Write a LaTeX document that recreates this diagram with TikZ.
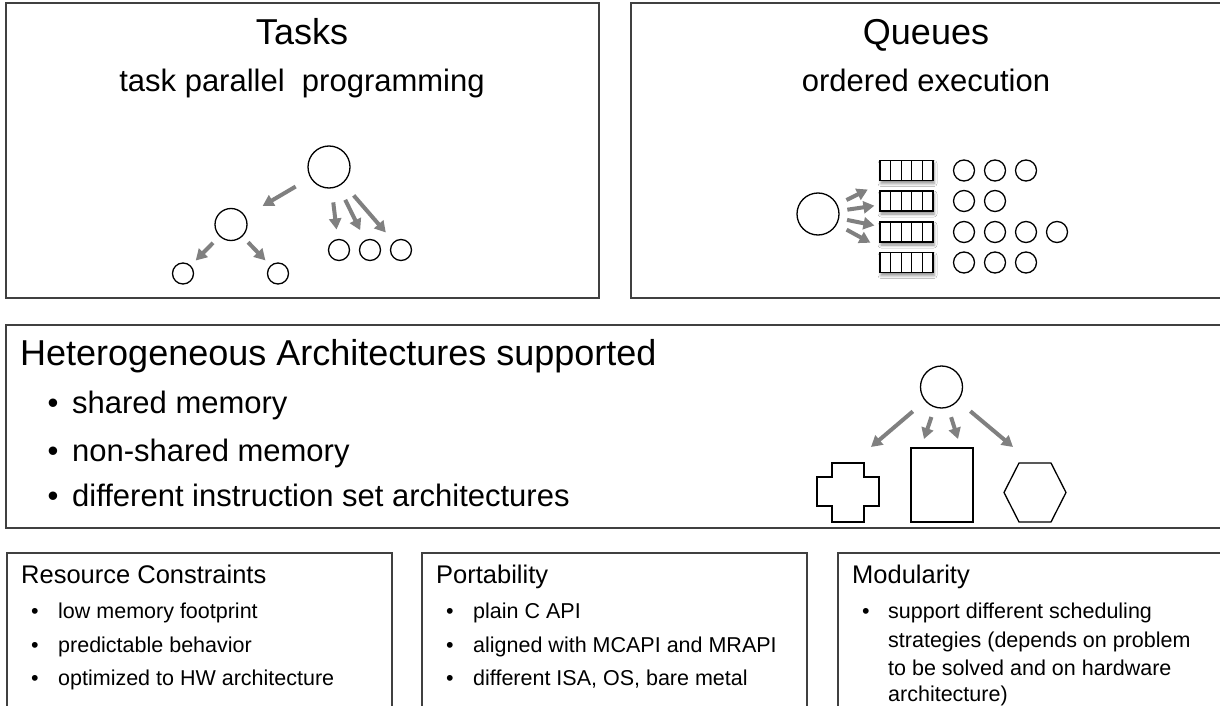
\documentclass[tikz,border=0pt]{standalone}
\usepackage{fontspec}
\setmainfont{Liberation Sans}
\usetikzlibrary{arrows.meta,shadows.blur,calc}
\definecolor{framegray}{HTML}{404040}
\definecolor{arrgray}{HTML}{808080}
\tikzset{
  frame/.style={draw=framegray, line width=1.8pt},
  arr/.style={draw=arrgray, line width=4pt, -{Triangle[length=11pt,width=12pt]}},
  shapeln/.style={draw=black, line width=1.3pt},
  circ/.style={shapeln, circle, inner sep=0pt, minimum size=#1},
  qbox/.style={shapeln, rectangle, inner sep=0pt, minimum width=53pt, minimum height=20pt, fill=white,
    blur shadow={shadow xshift=1pt, shadow yshift=-3pt, shadow blur radius=3pt, shadow opacity=45}},
  bigtitle/.style={font=\fontsize{36}{43}\selectfont, inner sep=0pt, anchor=base},
  subtitle/.style={font=\fontsize{31}{37}\selectfont, inner sep=0pt, anchor=base},
  bigitem/.style={font=\fontsize{31}{37}\selectfont, inner sep=0pt, anchor=base west},
  bigbul/.style={font=\fontsize{31}{37}\selectfont, inner sep=0pt, anchor=base},
  smallhead/.style={font=\fontsize{25.5}{30}\selectfont, inner sep=0pt, anchor=base west},
  smallitem/.style={font=\fontsize{21.5}{26}\selectfont, inner sep=0pt, anchor=base west},
  smallbul/.style={font=\fontsize{21.5}{26}\selectfont, inner sep=0pt, anchor=base},
}
\begin{document}
\begin{tikzpicture}[x=1pt,y=-1pt]
\useasboundingbox (0,0) rectangle (1220,706);
\clip (0,0) rectangle (1220,706);
\fill[white] (0,0) rectangle (1220,706);

% ---------- frames ----------
\draw[frame] (6,3) rectangle (599,298);
\draw[frame] (631,3) rectangle (1226,298);
\draw[frame] (6,325) rectangle (1226,528);
\draw[frame] (7,553) rectangle (392,716);
\draw[frame] (422,553) rectangle (807,716);
\draw[frame] (838,553) rectangle (1226,716);

% ---------- Tasks ----------
\node[bigtitle] (ttitle) at (302,45) {Tasks};
\node[subtitle] (tsub) at (302,92) {task parallel\hspace{0.28em} programming};

\node[circ=42pt] (root) at (329,167) {};
\node[circ=32pt] (lc) at (231,224.5) {};
\node[circ=21pt] (ll) at (183,273.5) {};
\node[circ=21pt] (lr) at (278,273.5) {};
\node[circ=21pt] (r1) at (339,250) {};
\node[circ=21pt] (r2) at (370,250) {};
\node[circ=21pt] (r3) at (401,250) {};

\draw[arr, shorten <=17pt, shorten >=20pt] (root) -- (lc);
\draw[arr, shorten <=9pt, shorten >=7pt] (lc) -- (ll);
\draw[arr, shorten <=8pt, shorten >=7pt] (lc) -- (lr);
\draw[arr, shorten <=14pt, shorten >=9.5pt] (root) -- (r1);
\draw[arr, shorten <=15pt, shorten >=11pt] (root) -- (r2);
\draw[arr, shorten <=16pt, shorten >=12pt] (root) -- (r3);

% ---------- Queues ----------
\node[bigtitle] (qtitle) at (926,45) {Queues};
\node[subtitle] (qsub) at (926,92) {ordered execution};

\node[circ=42pt] (qsrc) at (818,214) {};
\foreach \i/\y/\n in {1/170.5/3, 2/201/2, 3/232/4, 4/262.5/3} {
  \node[qbox] (Q\i) at (906.5,\y) {};
  \foreach \k in {1,2,3,4} {
    \draw[line width=1.1pt] ($(Q\i.south west)!\k/5!(Q\i.south east)$) -- ($(Q\i.north west)!\k/5!(Q\i.north east)$);
  }
  \foreach \j in {1,...,\n} {
    \node[circ=21pt] (q\i c\j) at ({964+31*(\j-1)},\y) {};
  }
}
\draw[arr, shorten <=10pt, shorten >=19pt] (qsrc) -- (Q1);
\draw[arr, shorten <=8pt, shorten >=5pt] (qsrc) -- (Q2);
\draw[arr, shorten <=8pt, shorten >=5pt] (qsrc) -- (Q3);
\draw[arr, shorten <=11pt, shorten >=19pt] (qsrc) -- (Q4);

% ---------- Heterogeneous ----------
\node[anchor=base west, inner sep=0pt, font=\fontsize{36}{43}\selectfont] (htitle) at (20,365) {Heterogeneous Architectures supported};
\node[bigbul] (hb1) at (53,413) {\textbullet};
\node[bigitem] (hi1) at (72,413) {shared memory};
\node[bigbul] (hb2) at (53,461) {\textbullet};
\node[bigitem] (hi2) at (72,461) {non-shared memory};
\node[bigbul] (hb3) at (53,506) {\textbullet};
\node[bigitem] (hi3) at (72,506) {different instruction set architectures};

\node[circ=42pt] (hsrc) at (941.5,387) {};
\node[shapeln, rectangle, inner sep=0pt, minimum width=62pt, minimum height=74pt] (hrect) at (942,485) {};
\draw[shapeln] (832,463) -- (864,463) -- (864,477) -- (879,477) -- (879,506) -- (864,506) -- (864,522)
  -- (832,522) -- (832,506) -- (817,506) -- (817,477) -- (832,477) -- cycle;
\draw[shapeln] (1019,463) -- (1051,463) -- (1066,492.5) -- (1051,522) -- (1019,522) -- (1004,492.5) -- cycle;
\coordinate (hc1) at (871,447);
\coordinate (hc2) at (924,439);
\coordinate (hc3) at (958,439);
\coordinate (hc4) at (1013,447);
\draw[arr, shorten <=16pt] (hsrc) -- (hc1);
\draw[arr, shorten <=10pt] (hsrc) -- (hc2);
\draw[arr, shorten <=10pt] (hsrc) -- (hc3);
\draw[arr, shorten <=16pt] (hsrc) -- (hc4);

% ---------- Resource Constraints ----------
\node[smallhead] (rhead) at (21,583) {Resource Constraints};
\node[smallbul] (rb1) at (35,618) {\textbullet};
\node[smallitem] (ri1) at (58,618) {low memory footprint};
\node[smallbul] (rb2) at (35,652) {\textbullet};
\node[smallitem] (ri2) at (58,652) {predictable behavior};
\node[smallbul] (rb3) at (35,685) {\textbullet};
\node[smallitem] (ri3) at (58,685) {optimized to HW architecture};

% ---------- Portability ----------
\node[smallhead] (phead) at (436,583) {Portability};
\node[smallbul] (pb1) at (450,618) {\textbullet};
\node[smallitem] (pi1) at (473,618) {plain C API};
\node[smallbul] (pb2) at (450,652) {\textbullet};
\node[smallitem] (pi2) at (473,652) {aligned with MCAPI and MRAPI};
\node[smallbul] (pb3) at (450,685) {\textbullet};
\node[smallitem] (pi3) at (473,685) {different ISA, OS, bare metal};

% ---------- Modularity ----------
\node[smallhead] (mhead) at (852,583) {Modularity};
\node[smallbul] (mb1) at (866,618) {\textbullet};
\node[smallitem] (mi1) at (888,618) {support different scheduling};
\node[smallitem] (mi2) at (888,647) {strategies (depends on problem};
\node[smallitem] (mi3) at (888,675) {to be solved and on hardware};
\node[smallitem] (mi4) at (888,701) {architecture)};
\end{tikzpicture}
\end{document}
